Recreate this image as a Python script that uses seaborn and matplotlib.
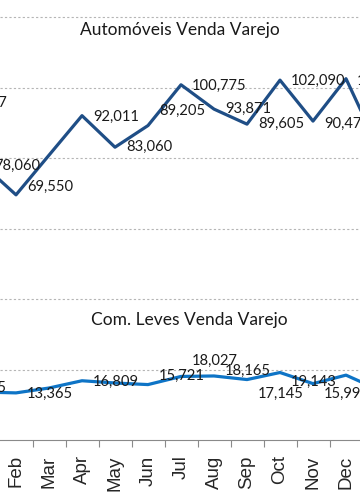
import pandas as pd
import matplotlib.pyplot as plt
import seaborn as sns

# Monthly retail sales (chart is cropped: previous Dec and next Jan sit off-canvas)
months = ["Dec", "Jan", "Feb", "Mar", "Apr", "May", "Jun",
          "Jul", "Aug", "Sep", "Oct", "Nov", "Dec", "Jan"]
automoveis = [95617, 78060, 69550, 80800, 92011, 83060, 89205,
              100775, 93871, 89605, 102090, 90473, 102500, 82500]
com_leves = [14735, 13600, 13365, 14750, 16809, 16170, 15721,
             18027, 18165, 17145, 19143, 15990, 18400, 14200]

# label vertical nudges in pixels (None = no label shown)
auto_label_dy = [0, 1, -8, None, 1, 0, -15, 1, 0, 0, 1, 3, 2, None]
leves_label_dy = [0, None, 1, None, 1, None, -9, -16, -5, 14, 9, 10, None, None]

sns.set_style("white")
plt.rcParams["font.family"] = ["Lato", "DejaVu Sans"]

df = pd.DataFrame({"idx": range(len(months)), "auto": automoveis, "leves": com_leves})

fig = plt.figure(figsize=(3.6, 5.04), dpi=100)
ax = fig.add_axes([0, 64 / 504, 1, 440 / 504])

sns.lineplot(data=df, x="idx", y="auto", color="#1F4E86", lw=2.3, ax=ax)
sns.lineplot(data=df, x="idx", y="leves", color="#0E74C6", lw=2.3, ax=ax)

for series, dys in [(automoveis, auto_label_dy), (com_leves, leves_label_dy)]:
    for i, (v, dy) in enumerate(zip(series, dys)):
        if dy is None:
            continue
        ax.annotate(f"{v:,}", (i, v), xytext=(11, -dy), textcoords="offset pixels",
                    ha="left", va="center", fontsize=10.6, color="#1a1a1a",
                    annotation_clip=False)

ax.set_yticks(range(20000, 140001, 20000))
ax.yaxis.grid(True, linestyle=(0, (2, 2)), color="#b5b5b5", lw=0.8)
ax.tick_params(axis="y", left=False, labelleft=False)

ax.set_xticks(range(len(months)))
ax.set_xticklabels(months, family=["Liberation Sans", "DejaVu Sans"], fontsize=13.5)
ax.set_xticks([i + 0.5 for i in range(len(months))], minor=True)
ax.tick_params(axis="x", which="major", length=0, pad=11, labelrotation=90)
ax.tick_params(axis="x", which="minor", length=5, width=0.8, color="#8a8a8a", direction="out", bottom=True)
ax.set_xlabel("")
ax.set_ylabel("")

# limits last, so the tick setters do not widen them
ax.set_xlim(50 / 33, 410 / 33)
ax.set_ylim(0, 440 / 0.003525)

for s in ["top", "left", "right"]:
    ax.spines[s].set_visible(False)
ax.spines["bottom"].set_color("#8a8a8a")
ax.spines["bottom"].set_linewidth(0.8)

fig.text(180 / 360, 1 - 30 / 504, "Automóveis Venda Varejo", ha="center", va="center",
         fontsize=12.5, color="#1a1a1a")
fig.text(189 / 360, 1 - 320 / 504, "Com. Leves Venda Varejo", ha="center", va="center",
         fontsize=12.5, color="#1a1a1a")

plt.savefig("out.png", dpi=100)
plt.close()
